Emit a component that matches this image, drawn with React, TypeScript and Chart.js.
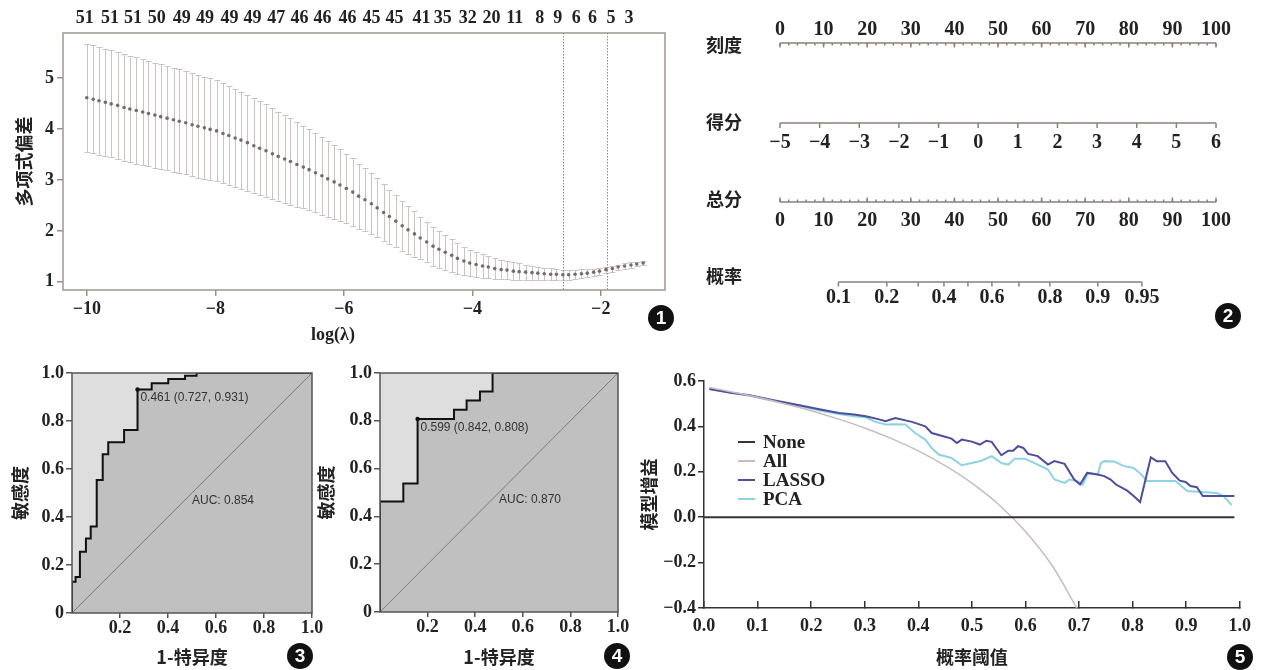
import React, { useEffect, useRef } from 'react';
import { Chart, registerables } from 'chart.js';
Chart.register(...registerables);

const SERIF = '"Liberation Serif", "Times New Roman", serif';
const CJK = '"Noto Sans CJK SC", sans-serif';
const SANS = '"Liberation Sans", Arial, sans-serif';
const INK = '#222222';

// ---------------- Panel 1: LASSO cross-validation ----------------
const logLambda = [
  -10.00, -9.90, -9.81, -9.71, -9.62, -9.52, -9.42, -9.33, -9.23, -9.13,
  -9.04, -8.94, -8.85, -8.75, -8.65, -8.56, -8.46, -8.36, -8.27, -8.17,
  -8.08, -7.98, -7.88, -7.79, -7.69, -7.60, -7.50, -7.40, -7.31, -7.21,
  -7.11, -7.02, -6.92, -6.83, -6.73, -6.63, -6.54, -6.44, -6.34, -6.25,
  -6.15, -6.06, -5.96, -5.86, -5.77, -5.67, -5.57, -5.48, -5.38, -5.29,
  -5.19, -5.09, -5.00, -4.90, -4.81, -4.71, -4.61, -4.52, -4.42, -4.32,
  -4.23, -4.13, -4.04, -3.94, -3.84, -3.75, -3.65, -3.55, -3.46, -3.36,
  -3.27, -3.17, -3.07, -2.98, -2.88, -2.78, -2.69, -2.59, -2.50, -2.40,
  -2.30, -2.21, -2.11, -2.02, -1.92, -1.82, -1.73, -1.63, -1.53, -1.44,
  -1.34,
];
const cvMean = [
  4.61, 4.58, 4.55, 4.52, 4.49, 4.46, 4.42, 4.39, 4.36, 4.33,
  4.30, 4.27, 4.24, 4.21, 4.18, 4.15, 4.12, 4.08, 4.05, 4.02,
  3.99, 3.96, 3.91, 3.87, 3.82, 3.78, 3.73, 3.67, 3.62, 3.57,
  3.51, 3.46, 3.41, 3.36, 3.30, 3.25, 3.20, 3.14, 3.08, 3.02,
  2.96, 2.90, 2.83, 2.76, 2.68, 2.61, 2.53, 2.45, 2.36, 2.28,
  2.19, 2.10, 2.02, 1.94, 1.86, 1.78, 1.70, 1.64, 1.58, 1.52,
  1.46, 1.41, 1.37, 1.34, 1.31, 1.29, 1.26, 1.24, 1.23, 1.21,
  1.20, 1.19, 1.18, 1.17, 1.16, 1.15, 1.15, 1.14, 1.14, 1.15,
  1.16, 1.17, 1.19, 1.21, 1.24, 1.26, 1.29, 1.31, 1.33, 1.35,
  1.37,
];
const cvSE = [
  1.06, 1.06, 1.06, 1.05, 1.05, 1.05, 1.05, 1.04, 1.04, 1.04,
  1.03, 1.03, 1.03, 1.02, 1.02, 1.02, 1.01, 1.01, 1.01, 1.00,
  1.00, 0.99, 0.98, 0.97, 0.96, 0.95, 0.94, 0.93, 0.92, 0.91,
  0.89, 0.88, 0.86, 0.85, 0.83, 0.81, 0.80, 0.78, 0.76, 0.74,
  0.72, 0.70, 0.68, 0.66, 0.64, 0.62, 0.60, 0.58, 0.55, 0.53,
  0.51, 0.49, 0.47, 0.45, 0.42, 0.40, 0.38, 0.36, 0.34, 0.32,
  0.30, 0.28, 0.26, 0.24, 0.23, 0.21, 0.20, 0.19, 0.18, 0.17,
  0.16, 0.15, 0.14, 0.13, 0.12, 0.12, 0.11, 0.10, 0.10, 0.09,
  0.09, 0.08, 0.07, 0.07, 0.06, 0.06, 0.05, 0.05, 0.05, 0.04,
  0.04,
];
const lambdaLines = [-2.58, -1.91];
const topLabelPos = [
  -10.03, -9.64, -9.28, -8.91, -8.52, -8.16, -7.78, -7.42, -7.05, -6.69,
  -6.33, -5.94, -5.57, -5.21, -4.79, -4.46, -4.07, -3.70, -3.34, -2.95,
  -2.67, -2.38, -2.13, -1.84, -1.56,
];
const topLabelCounts = [
  '51', '51', '51', '50', '49', '49', '49', '49', '47', '46',
  '46', '46', '45', '45', '41', '35', '32', '20', '11', '8',
  '9', '6', '6', '5', '3',
];
const cvXTicks = [-10, -8, -6, -4, -2];
const cvYTicks = [1, 2, 3, 4, 5];

// ---------------- Panel 2: nomogram ----------------
const nomoRows = ['刻度', '得分', '总分', '概率'];
const pointTicks = [0, 10, 20, 30, 40, 50, 60, 70, 80, 90, 100];
const scoreTicks = [-5, -4, -3, -2, -1, 0, 1, 2, 3, 4, 5, 6];
const probTickPoints = [13.4, 24.5, 31.7, 37.6, 43.1, 48.6, 54.8, 61.9, 72.9, 83.0];
const probTickLabels = ['0.1', '0.2', '', '0.4', '', '0.6', '', '0.8', '0.9', '0.95'];

// ---------------- Panels 3 & 4: ROC ----------------
const roc1Fpr = [0, 0, 0.015, 0.033, 0.058, 0.078, 0.103, 0.128, 0.151, 0.217, 0.273, 0.332, 0.401, 0.471, 0.519, 1];
const roc1Tpr = [0, 0.13, 0.15, 0.255, 0.31, 0.36, 0.554, 0.661, 0.711, 0.762, 0.931, 0.957, 0.975, 0.989, 1.0, 1.0];
const roc1Best = [0.273, 0.931];
const roc1BestLabel = '0.461 (0.727, 0.931)';
const roc1Auc = 'AUC: 0.854';

const roc2Fpr = [0, 0, 0.098, 0.158, 0.311, 0.364, 0.42, 0.473, 1];
const roc2Tpr = [0, 0.462, 0.538, 0.808, 0.846, 0.885, 0.923, 1.0, 1.0];
const roc2Best = [0.158, 0.808];
const roc2BestLabel = '0.599 (0.842, 0.808)';
const roc2Auc = 'AUC: 0.870';

const rocXTicks = [0.2, 0.4, 0.6, 0.8, 1.0];
const rocYTicks = [0, 0.2, 0.4, 0.6, 0.8, 1.0];
const rocDiagonal = [0, 1];

// ---------------- Panel 5: decision curve ----------------
const dcaNames = ['None', 'All', 'LASSO', 'PCA'];
const noneX = [0, 0.99];
const noneY = [0, 0];
const allX = [0.01, 0.05, 0.10, 0.15, 0.20, 0.25, 0.30, 0.35, 0.40, 0.45, 0.50, 0.55, 0.60, 0.65, 0.70];
const allY = [0.571, 0.553, 0.528, 0.500, 0.469, 0.433, 0.393, 0.346, 0.292, 0.227, 0.150, 0.056, -0.063, -0.214, -0.417];
const lassoX = [0.01, 0.05, 0.085, 0.13, 0.178, 0.22, 0.252, 0.28, 0.302, 0.325, 0.339, 0.357, 0.388, 0.413, 0.425, 0.445, 0.462, 0.472, 0.481, 0.50, 0.515, 0.527, 0.537, 0.555, 0.568, 0.577, 0.586, 0.596, 0.605, 0.623, 0.642, 0.654, 0.673, 0.691, 0.702, 0.715, 0.735, 0.747, 0.759, 0.769, 0.790, 0.802, 0.814, 0.834, 0.845, 0.861, 0.874, 0.888, 0.899, 0.908, 0.920, 0.931, 0.945, 0.990];
const lassoY = [0.565, 0.548, 0.537, 0.515, 0.493, 0.473, 0.459, 0.452, 0.445, 0.432, 0.423, 0.437, 0.420, 0.400, 0.371, 0.358, 0.346, 0.327, 0.342, 0.333, 0.320, 0.337, 0.332, 0.273, 0.293, 0.293, 0.313, 0.305, 0.279, 0.269, 0.232, 0.247, 0.235, 0.166, 0.144, 0.195, 0.188, 0.181, 0.166, 0.144, 0.117, 0.093, 0.067, 0.264, 0.247, 0.247, 0.195, 0.161, 0.155, 0.137, 0.132, 0.093, 0.093, 0.093];
const pcaX = [0.01, 0.05, 0.085, 0.13, 0.178, 0.22, 0.252, 0.28, 0.302, 0.32, 0.339, 0.357, 0.376, 0.394, 0.413, 0.425, 0.438, 0.462, 0.481, 0.50, 0.518, 0.537, 0.555, 0.568, 0.580, 0.599, 0.623, 0.642, 0.654, 0.673, 0.682, 0.697, 0.707, 0.717, 0.735, 0.741, 0.747, 0.766, 0.784, 0.802, 0.815, 0.827, 0.880, 0.902, 0.957, 0.970, 0.985];
const pcaY = [0.565, 0.548, 0.535, 0.512, 0.490, 0.468, 0.455, 0.445, 0.440, 0.420, 0.408, 0.410, 0.408, 0.371, 0.342, 0.305, 0.276, 0.261, 0.229, 0.239, 0.249, 0.269, 0.239, 0.232, 0.258, 0.258, 0.232, 0.210, 0.166, 0.151, 0.166, 0.159, 0.144, 0.195, 0.188, 0.239, 0.247, 0.245, 0.225, 0.217, 0.191, 0.159, 0.159, 0.115, 0.107, 0.093, 0.053];
const dcaXTicks = [0, 0.1, 0.2, 0.3, 0.4, 0.5, 0.6, 0.7, 0.8, 0.9, 1.0];
const dcaYTicks = [-0.4, -0.2, 0, 0.2, 0.4, 0.6];

// ---------------- helpers ----------------
const minus = (s: string) => s.replace('-', '\u2212');
const xy = (xs: number[], ys: number[]) => xs.map((x, i) => ({ x, y: ys[i] }));
const tickFont = { family: SERIF, size: 18, weight: 'bold' as const };
const cjkFont = { family: CJK, size: 18, weight: 'bold' as const };
const setTicks = (vals: number[]) => (s: any) => {
  s.ticks = vals.map((v) => ({ value: v }));
};
const baseOptions = {
  animation: false,
  responsive: false,
  devicePixelRatio: 1,
  events: [],
};

// ---------------- Panel 1 config ----------------
function makeCv() {
  const cvPlugin = {
    id: 'cvBars',
    beforeDatasetsDraw(chart: any) {
      const { ctx, scales } = chart;
      const x = scales.x;
      const y = scales.y;
      const area = chart.chartArea;
      ctx.save();
      ctx.strokeStyle = '#cbc2c2';
      ctx.lineWidth = 1;
      logLambda.forEach((l, i) => {
        const px = Math.round(x.getPixelForValue(l)) + 0.5;
        const hi = Math.round(y.getPixelForValue(cvMean[i] + cvSE[i])) + 0.5;
        const lo = Math.round(y.getPixelForValue(cvMean[i] - cvSE[i])) + 0.5;
        ctx.beginPath();
        ctx.moveTo(px, hi);
        ctx.lineTo(px, lo);
        ctx.moveTo(px - 3, hi);
        ctx.lineTo(px + 3, hi);
        ctx.moveTo(px - 3, lo);
        ctx.lineTo(px + 3, lo);
        ctx.stroke();
      });
      ctx.strokeStyle = '#8c8686';
      ctx.setLineDash([1.5, 1.5]);
      lambdaLines.forEach((l) => {
        const px = Math.round(x.getPixelForValue(l)) + 0.5;
        ctx.beginPath();
        ctx.moveTo(px, area.top);
        ctx.lineTo(px, area.bottom);
        ctx.stroke();
      });
      ctx.restore();
    },
    afterDraw(chart: any) {
      const { ctx, chartArea: a } = chart;
      ctx.save();
      ctx.strokeStyle = '#a0958f';
      ctx.lineWidth = 1.5;
      ctx.strokeRect(a.left, a.top, a.right - a.left, a.bottom - a.top);
      ctx.fillStyle = INK;
      ctx.font = `bold 18px ${SERIF}`;
      ctx.textAlign = 'center';
      ctx.textBaseline = 'middle';
      ctx.fillText('log(\u03bb)', (a.left + a.right) / 2 - 31, 335);
      ctx.restore();
    },
  };
  return {
    type: 'scatter',
    data: {
      datasets: [
        {
          data: xy(logLambda, cvMean),
          pointRadius: 1.8,
          pointBackgroundColor: '#776c6c',
          pointBorderWidth: 0,
          showLine: false,
        },
      ],
    },
    options: {
      ...baseOptions,
      layout: { padding: { right: 25 } },
      plugins: { legend: { display: false }, tooltip: { enabled: false } },
      scales: {
        x: {
          type: 'linear',
          position: 'bottom',
          min: -10.37,
          max: -1.0,
          afterBuildTicks: setTicks(cvXTicks),
          afterFit: (s: any) => { s.height = 56; },
          ticks: { callback: (v: number) => minus(String(v)), font: tickFont, color: INK, padding: 3, maxRotation: 0, autoSkip: false },
          grid: { display: true, drawOnChartArea: false, drawTicks: true, tickLength: 6, color: '#9a8f8b', lineWidth: 1.5 },
          border: { display: false },
        },
        x2: {
          type: 'linear',
          axis: 'x',
          position: 'top',
          min: -10.37,
          max: -1.0,
          afterBuildTicks: setTicks(topLabelPos),
          afterFit: (s: any) => { s.height = 33; },
          ticks: { callback: (_v: number, i: number) => topLabelCounts[i], font: tickFont, color: INK, padding: 4, maxRotation: 0, autoSkip: false },
          grid: { display: false, drawTicks: false },
          border: { display: false },
        },
        y: {
          type: 'linear',
          min: 0.84,
          max: 5.88,
          afterBuildTicks: setTicks(cvYTicks),
          afterFit: (s: any) => { s.width = 63; },
          ticks: { font: tickFont, color: INK, padding: 3 },
          grid: { display: true, drawOnChartArea: false, drawTicks: true, tickLength: 6, color: '#9a8f8b', lineWidth: 1.5 },
          border: { display: false },
          title: { display: true, text: '多项式偏差', font: cjkFont, color: INK, padding: { top: 13, bottom: 0 } },
        },
      },
    },
    plugins: [cvPlugin],
  };
}

// ---------------- Panel 2 config ----------------
function makeNomo() {
  const lineOffset = [-2, 1, 3, 6];
  const nomoPlugin = {
    id: 'nomo',
    afterDraw(chart: any) {
      const { ctx, scales } = chart;
      const x = scales.x;
      const y = scales.y;
      const px = (v: number) => x.getPixelForValue(v);
      const scorePts = (s: number) =>
        ((s - scoreTicks[0]) / (scoreTicks[scoreTicks.length - 1] - scoreTicks[0])) * 100;
      ctx.save();
      ctx.strokeStyle = '#8b7f7b';
      ctx.lineWidth = 1.5;
      ctx.fillStyle = INK;
      ctx.font = `bold 20px ${SERIF}`;
      ctx.textAlign = 'center';
      ctx.textBaseline = 'middle';
      const hline = (y0: number, a: number, b: number) => {
        ctx.beginPath();
        ctx.moveTo(px(a), y0);
        ctx.lineTo(px(b), y0);
        ctx.stroke();
      };
      const tick = (v: number, y0: number, len: number) => {
        ctx.beginPath();
        ctx.moveTo(px(v), y0);
        ctx.lineTo(px(v), y0 + len);
        ctx.stroke();
      };
      // row 0: 刻度
      let y0 = y.getPixelForValue(0) + lineOffset[0];
      hline(y0, pointTicks[0], pointTicks[pointTicks.length - 1]);
      for (let k = 0; k <= 100; k += 2) tick(k, y0, 2.5);
      pointTicks.forEach((v) => {
        tick(v, y0, 4.5);
        ctx.fillText(String(v), px(v), y0 - 13);
      });
      // row 1: 得分
      y0 = y.getPixelForValue(1) + lineOffset[1];
      hline(y0, 0, 100);
      scoreTicks.forEach((s) => {
        tick(scorePts(s), y0, 5);
        ctx.fillText(minus(String(s)), px(scorePts(s)), y0 + 20);
      });
      // row 2: 总分
      y0 = y.getPixelForValue(2) + lineOffset[2];
      hline(y0, pointTicks[0], pointTicks[pointTicks.length - 1]);
      for (let k = 0; k <= 100; k += 2) tick(k, y0, -2.5);
      pointTicks.forEach((v) => {
        tick(v, y0, -4.5);
        ctx.fillText(String(v), px(v), y0 + 19);
      });
      // row 3: 概率
      y0 = y.getPixelForValue(3) + lineOffset[3];
      hline(y0, probTickPoints[0], probTickPoints[probTickPoints.length - 1]);
      probTickPoints.forEach((p, i) => {
        tick(p, y0, 4.5);
        if (probTickLabels[i]) ctx.fillText(probTickLabels[i], px(p), y0 + 16);
      });
      ctx.restore();
    },
  };
  return {
    type: 'line',
    data: { datasets: [] },
    options: {
      ...baseOptions,
      layout: { padding: { top: 26.5, bottom: 25.5, right: 50 } },
      plugins: { legend: { display: false }, tooltip: { enabled: false } },
      scales: {
        x: { type: 'linear', min: 0, max: 100, display: false },
        y: {
          type: 'category',
          labels: nomoRows,
          offset: true,
          afterFit: (s: any) => { s.width = 90; },
          ticks: { font: cjkFont, color: INK, padding: 2 },
          grid: { display: false, drawTicks: true, tickLength: 36 },
          border: { display: false },
        },
      },
    },
    plugins: [nomoPlugin],
  };
}

// ---------------- Panels 3 & 4 config ----------------
function makeRoc(fpr: number[], tpr: number[], best: number[], bestLabel: string, auc: string,
  yWidth: number, xHeight: number, padRight: number, yTitlePad: number) {
  const rocPlugin = {
    id: 'rocDeco',
    beforeDraw(chart: any) {
      const { ctx, chartArea: a } = chart;
      ctx.save();
      ctx.fillStyle = '#dedede';
      ctx.fillRect(a.left, a.top, a.right - a.left, a.bottom - a.top);
      ctx.restore();
    },
    afterDatasetsDraw(chart: any) {
      const { ctx, scales } = chart;
      const x = scales.x;
      const y = scales.y;
      ctx.save();
      ctx.fillStyle = '#111';
      ctx.beginPath();
      ctx.arc(x.getPixelForValue(best[0]), y.getPixelForValue(best[1]), 2.2, 0, Math.PI * 2);
      ctx.fill();
      ctx.fillStyle = '#333';
      ctx.font = `12px ${SANS}`;
      ctx.textAlign = 'left';
      ctx.textBaseline = 'middle';
      ctx.fillText(bestLabel, x.getPixelForValue(best[0] + 0.012), y.getPixelForValue(best[1] - 0.035));
      ctx.fillText(auc, x.getPixelForValue(0.5), y.getPixelForValue(0.47));
      ctx.restore();
    },
    afterDraw(chart: any) {
      const { ctx, chartArea: a } = chart;
      ctx.save();
      ctx.strokeStyle = '#555';
      ctx.lineWidth = 1.5;
      ctx.strokeRect(a.left, a.top, a.right - a.left, a.bottom - a.top);
      ctx.restore();
    },
  };
  return {
    type: 'line',
    data: {
      datasets: [
        {
          data: xy(fpr, tpr),
          stepped: 'before',
          borderColor: '#111111',
          borderWidth: 2,
          pointRadius: 0,
          fill: 'origin',
          backgroundColor: '#c0c0c0',
        },
        {
          data: xy(rocDiagonal, rocDiagonal),
          borderColor: '#7d7d7d',
          borderWidth: 1,
          pointRadius: 0,
          fill: false,
        },
      ],
    },
    options: {
      ...baseOptions,
      layout: { padding: { top: 18, right: padRight } },
      plugins: { legend: { display: false }, tooltip: { enabled: false }, filler: { drawTime: 'beforeDatasetsDraw' } },
      scales: {
        x: {
          type: 'linear',
          min: 0,
          max: 1,
          afterBuildTicks: setTicks(rocXTicks),
          afterFit: (s: any) => { s.height = xHeight; },
          ticks: { callback: (v: number) => v.toFixed(1), font: tickFont, color: INK, padding: 0, maxRotation: 0, autoSkip: false },
          grid: { display: true, drawOnChartArea: false, drawTicks: true, tickLength: 5, color: '#555', lineWidth: 1.5 },
          border: { display: false },
          title: { display: true, text: '1-特异度', font: cjkFont, color: INK, padding: { top: 0, bottom: 2 } },
        },
        y: {
          type: 'linear',
          min: 0,
          max: 1,
          afterBuildTicks: setTicks(rocYTicks),
          afterFit: (s: any) => { s.width = yWidth; },
          ticks: { callback: (v: number) => (v === 0 ? '0' : v.toFixed(1)), font: tickFont, color: INK, padding: 2, autoSkip: false },
          grid: { display: true, drawOnChartArea: false, drawTicks: true, tickLength: 6, color: '#555', lineWidth: 1.5 },
          border: { display: false },
          title: { display: true, text: '敏感度', font: cjkFont, color: INK, padding: { top: yTitlePad, bottom: 0 } },
        },
      },
    },
    plugins: [rocPlugin],
  };
}

// ---------------- Panel 5 config ----------------
function makeDca() {
  const legendPlugin = {
    id: 'dcaLegend',
    afterDraw(chart: any) {
      const { ctx, chartArea: a } = chart;
      ctx.save();
      ctx.font = `bold 19px ${SERIF}`;
      ctx.textAlign = 'left';
      ctx.textBaseline = 'middle';
      dcaNames.forEach((name, i) => {
        const ds = chart.data.datasets[i];
        const x0 = a.left + 34;
        const y0 = a.top + 61 + i * 19;
        ctx.strokeStyle = ds.borderColor;
        ctx.lineWidth = 2;
        ctx.beginPath();
        ctx.moveTo(x0, y0);
        ctx.lineTo(x0 + 17, y0);
        ctx.stroke();
        ctx.fillStyle = INK;
        ctx.fillText(name, x0 + 25, y0 + 1);
      });
      ctx.restore();
    },
  };
  return {
    type: 'line',
    data: {
      datasets: [
        { label: dcaNames[0], data: xy(noneX, noneY), borderColor: '#3b3333', borderWidth: 2, pointRadius: 0, fill: false },
        { label: dcaNames[1], data: xy(allX, allY), borderColor: '#c9bcbc', borderWidth: 1.5, pointRadius: 0, fill: false, cubicInterpolationMode: 'monotone' },
        { label: dcaNames[2], data: xy(lassoX, lassoY), borderColor: '#4d4e9c', borderWidth: 2, pointRadius: 0, fill: false },
        { label: dcaNames[3], data: xy(pcaX, pcaY), borderColor: '#8fd3e3', borderWidth: 2, pointRadius: 0, fill: false },
      ],
    },
    options: {
      ...baseOptions,
      layout: { padding: { top: 21, right: 23 } },
      plugins: { legend: { display: false }, tooltip: { enabled: false } },
      scales: {
        x: {
          type: 'linear',
          min: 0,
          max: 1,
          afterBuildTicks: setTicks(dcaXTicks),
          afterFit: (s: any) => { s.height = 62; },
          ticks: { callback: (v: number) => v.toFixed(1), font: tickFont, color: INK, padding: 15, maxRotation: 0, autoSkip: false },
          grid: { display: true, drawOnChartArea: false, drawTicks: true, tickLength: -7, color: '#333', lineWidth: 1.5 },
          border: { display: true, color: '#333', width: 1.5 },
          title: { display: true, text: '概率阈值', font: cjkFont, color: INK, padding: { top: 0, bottom: 2 } },
        },
        y: {
          type: 'linear',
          min: -0.4,
          max: 0.6,
          afterBuildTicks: setTicks(dcaYTicks),
          afterFit: (s: any) => { s.width = 84; },
          ticks: { callback: (v: number) => minus(v.toFixed(1)), font: tickFont, color: INK, padding: 2, autoSkip: false },
          grid: { display: true, drawOnChartArea: false, drawTicks: true, tickLength: 6, color: '#333', lineWidth: 1.5 },
          border: { display: true, color: '#333', width: 1.5 },
          title: { display: true, text: '模型增益', font: cjkFont, color: INK, padding: { top: 18, bottom: 0 } },
        },
      },
    },
    plugins: [legendPlugin],
  };
}

// ---------------- components ----------------
function ChartBox({ left, top, width, height, make }: { left: number; top: number; width: number; height: number; make: () => any }) {
  const ref = useRef<HTMLCanvasElement>(null);
  useEffect(() => {
    const chart = new Chart(ref.current as HTMLCanvasElement, make());
    return () => chart.destroy();
  }, []);
  return (
    <canvas
      ref={ref}
      width={width}
      height={height}
      style={{ position: 'absolute', left, top, width, height }}
    />
  );
}

const badges = [
  { n: '1', x: 661, y: 318 },
  { n: '2', x: 1228, y: 316 },
  { n: '3', x: 300, y: 656 },
  { n: '4', x: 617, y: 656 },
  { n: '5', x: 1240, y: 657 },
];

export default function App() {
  return (
    <div style={{ position: 'absolute', left: 0, top: 0, width: 1266, height: 670, overflow: 'hidden', background: '#ffffff' }}>
      <ChartBox left={0} top={0} width={690} height={346} make={makeCv} />
      <ChartBox left={690} top={-20} width={576} height={360} make={makeNomo} />
      <ChartBox left={0} top={355} width={330} height={315}
        make={() => makeRoc(roc1Fpr, roc1Tpr, roc1Best, roc1BestLabel, roc1Auc, 72, 57, 18, 9)} />
      <ChartBox left={300} top={355} width={350} height={315}
        make={() => makeRoc(roc2Fpr, roc2Tpr, roc2Best, roc2BestLabel, roc2Auc, 80, 58, 32, 15)} />
      <ChartBox left={620} top={360} width={646} height={310} make={makeDca} />
      {badges.map((b) => (
        <div
          key={b.n}
          style={{
            position: 'absolute',
            left: b.x - 13,
            top: b.y - 13,
            width: 26,
            height: 26,
            borderRadius: '50%',
            background: '#111',
            color: '#fff',
            font: `bold 19px ${SANS}`,
            display: 'flex',
            alignItems: 'center',
            justifyContent: 'center',
          }}
        >
          {b.n}
        </div>
      ))}
    </div>
  );
}
